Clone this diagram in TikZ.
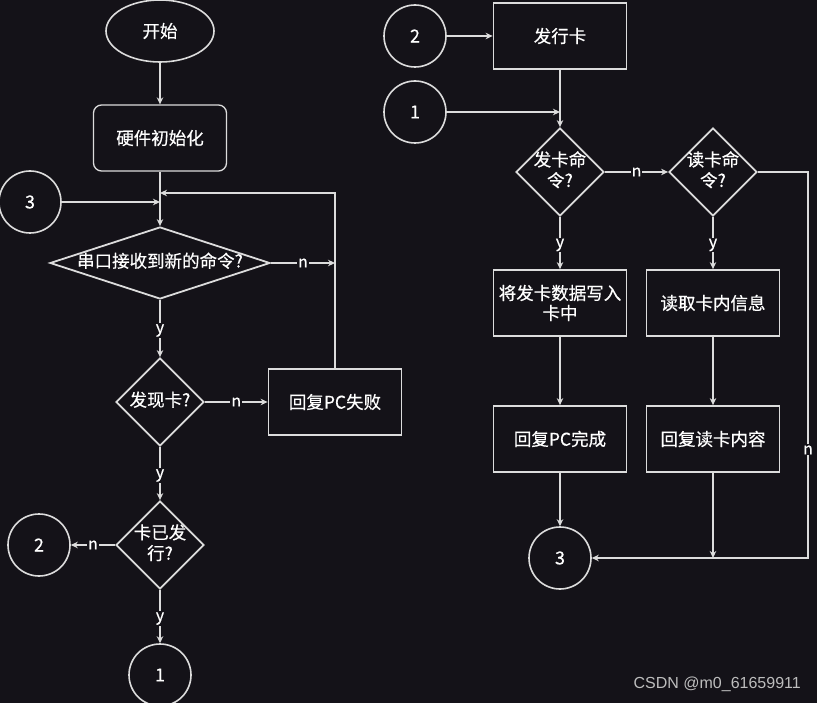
\documentclass[tikz,border=0pt]{standalone}
\usepackage{fontspec}
\setmainfont{Noto Sans CJK SC}[FakeBold=0.5]
\newfontfamily\markfont{Liberation Sans}
\usepackage{xcolor}
\usepackage{tikz}
\usetikzlibrary{arrows.meta,positioning,shapes.geometric}
\definecolor{bgdark}{HTML}{141218}
\definecolor{linegray}{HTML}{DCDCDC}
\definecolor{markgray}{HTML}{BDBDBD}
\tikzset{
	arrow/.style={-{Stealth[length=7pt,width=6.5pt]}, draw=linegray, line width=1.2pt},
	edgelabel/.style={fill=bgdark, inner sep=1pt, text=white, font=\fontsize{16}{16}\selectfont},
	ylabel/.style={edgelabel, yshift=-2pt},
}
\newcommand{\dtext}[1]{\makebox[0pt]{\begin{tabular}{@{}c@{}}#1\end{tabular}}}

\begin{document}
\begin{tikzpicture}[x=1pt, y=-1pt,
			termnode/.style={ellipse, draw=linegray, line width=1.6pt, inner sep=0pt,
				minimum width=108pt, minimum height=62pt, text=white,
				font=\fontsize{17.5}{20}\selectfont},
			linknode/.style={circle, draw=linegray, line width=1.6pt, inner sep=0pt,
				minimum size=62pt, text=white, font=\fontsize{18}{20}\selectfont},
			procbox/.style={draw=linegray, line width=1.8pt, inner sep=0pt, align=center,
				minimum width=133pt, minimum height=66pt, text=white,
				font=\fontsize{17.5}{20}\selectfont},
			decision/.style={diamond, draw=linegray, line width=1.8pt, inner sep=0pt,
				minimum size=88pt, text=white, font=\fontsize{17.5}{20}\selectfont},
			]
			
			%% -- Background and frame
			\path[use as bounding box, fill=bgdark] (0,0) rectangle (817,703);
			
			%% -- Left column: start and command loop
			\node[termnode] (start) at (160,31) {开始};
			\node[procbox, rounded corners=8pt, line width=1.3pt] (init) at (160,138) {硬件初始化};
			\node[linknode] (l3in) at (30,202) {3};
			\node[decision, minimum width=220pt, minimum height=72pt] (rxcmd) at (160,263)
			{\dtext{串口接收到新的命令?}};
			\node[decision] (findcard) at (160,402) {\dtext{发现卡?}};
			\node[procbox] (failpc) at (335,402) {回复PC失败};
			\node[decision] (issued) at (160,545) {\dtext{卡已发\\行?}};
			\node[linknode] (l2out) at (39,545) {2};
			\node[linknode] (l1out) at (160,675) {1};
			
			\coordinate (joinloop) at (160,193);
			\coordinate (join3) at (160,202);
			
			%% -- Right column: card commands
			\node[linknode] (l2in) at (415,36) {2};
			\node[procbox] (issue) at (560,36) {发行卡};
			\node[linknode] (l1in) at (415,112) {1};
			\node[decision] (issuecmd) at (560,172) {\dtext{发卡命\\令?}};
			\node[decision] (readcmd) at (713,172) {\dtext{读卡命\\令?}};
			\node[procbox] (writecard) at (560,303) {将发卡数据写入\\卡中};
			\node[procbox] (readinfo) at (713,303) {读取卡内信息};
			\node[procbox] (donepc) at (560,439) {回复PC完成};
			\node[procbox] (replyread) at (713,439) {回复读卡内容};
			\node[linknode] (l3out) at (560,558) {3};
			
			\coordinate (join1) at (560,112);
			\coordinate (joinread) at (713,558);
			\coordinate (rtop) at (808,172);
			\coordinate (rbot) at (808,558);
			
			%% -- Left edges
			\draw[arrow] (start.south) -- (init.north);
			\draw[arrow] (init.south) -- (rxcmd.north);
			\draw[arrow] (l3in.east) -- (join3);
			\draw[arrow] (failpc.north) |- (joinloop);
			\draw[arrow] (rxcmd.east) -- node[edgelabel] {n} (failpc.north |- rxcmd.east);
			\draw[arrow] (rxcmd.south) -- node[ylabel] {y} (findcard.north);
			\draw[arrow] (findcard.east) -- node[edgelabel] {n} (failpc.west);
			\draw[arrow] (findcard.south) -- node[ylabel] {y} (issued.north);
			\draw[arrow] (issued.west) -- node[edgelabel] {n} (l2out.east);
			\draw[arrow] (issued.south) -- node[ylabel] {y} (l1out.north);
			
			%% -- Right edges
			\draw[arrow] (l2in.east) -- (issue.west);
			\draw[arrow] (l1in.east) -- (join1);
			\draw[arrow] (issue.south) -- (issuecmd.north);
			\draw[arrow] (issuecmd.east) -- node[edgelabel] {n} (readcmd.west);
			\draw[arrow] (issuecmd.south) -- node[ylabel] {y} (writecard.north);
			\draw[arrow] (readcmd.south) -- node[ylabel] {y} (readinfo.north);
			\draw[arrow] (writecard.south) -- (donepc.north);
			\draw[arrow] (readinfo.south) -- (replyread.north);
			\draw[arrow] (donepc.south) -- (l3out.north);
			\draw[arrow] (replyread.south) -- (joinread);
			\draw[arrow] (readcmd.east) -- (rtop) -- node[edgelabel, pos=0.72] {n} (rbot) -- (l3out.east);
			
			%% -- Watermark
			\node[anchor=east, text=markgray, inner sep=0pt,
			font=\markfont\fontsize{16}{18}\selectfont] (mark) at (801,684)
			{CSDN @m0\_61659911};
			
		\end{tikzpicture}
\end{document}
